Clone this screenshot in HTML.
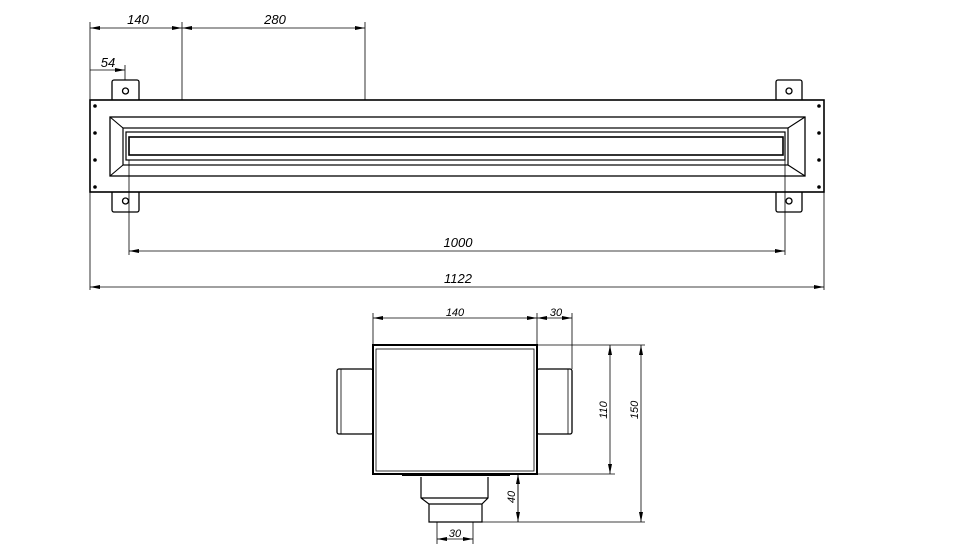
<!DOCTYPE html>
<html><head><meta charset="utf-8"><style>
html,body{margin:0;padding:0;background:#fff;width:970px;height:554px;overflow:hidden}
text{font-family:"Liberation Sans",sans-serif;font-style:italic;font-size:13px;fill:#000}
</style></head><body>
<svg width="970" height="554" viewBox="0 0 970 554" xmlns="http://www.w3.org/2000/svg">
<defs>
<marker id="a" viewBox="0 0 10 4" refX="10" refY="2" markerWidth="10" markerHeight="4" orient="auto-start-reverse" markerUnits="userSpaceOnUse"><path d="M0,0L10,2L0,4z" fill="#000"/></marker>
</defs>
<g fill="none" stroke="#000">
<!-- tabs -->
<g stroke-width="1.3">
<path d="M112,100V82a2,2 0 0 1 2,-2H137a2,2 0 0 1 2,2V100"/>
<path d="M112,192V210a2,2 0 0 0 2,2H137a2,2 0 0 0 2,-2V192"/>
<path d="M776,100V82a2,2 0 0 1 2,-2H800a2,2 0 0 1 2,2V100"/>
<path d="M776,192V210a2,2 0 0 0 2,2H800a2,2 0 0 0 2,-2V192"/>
<circle cx="125.5" cy="91" r="3"/><circle cx="125.5" cy="201" r="3"/>
<circle cx="789" cy="91" r="3"/><circle cx="789" cy="201" r="3"/>
</g>
<!-- outer frame -->
<rect x="90" y="100" width="734" height="92" stroke-width="1.6"/>
<rect x="110" y="117" width="695" height="59" stroke-width="1.3"/>
<rect x="123" y="128" width="665" height="37" stroke-width="1.2"/>
<rect x="126" y="132" width="659" height="28" stroke-width="1.2"/>
<rect x="129" y="137" width="654" height="18" stroke-width="1.6"/>
<path d="M110,117L123,128M110,176L123,165M805,117L788,128M805,176L788,165" stroke-width="1.1"/>
</g>
<g fill="#000">
<circle cx="95" cy="106" r="1.8"/><circle cx="95" cy="133" r="1.8"/><circle cx="95" cy="160" r="1.8"/><circle cx="95" cy="187" r="1.8"/>
<circle cx="819" cy="106" r="1.8"/><circle cx="819" cy="133" r="1.8"/><circle cx="819" cy="160" r="1.8"/><circle cx="819" cy="187" r="1.8"/>
</g>
<!-- top dims -->
<g stroke="#000" stroke-width="0.8" fill="none">
<path d="M90,22V290M182,22V100M365,22V100M125,65V80M824,192V290M129,160V255M785,160V255"/>
<line x1="90" y1="28" x2="182" y2="28" marker-start="url(#a)" marker-end="url(#a)"/>
<line x1="182" y1="28" x2="365" y2="28" marker-start="url(#a)" marker-end="url(#a)"/>
<line x1="90" y1="70" x2="125" y2="70" marker-end="url(#a)"/>
<line x1="129" y1="251" x2="785" y2="251" marker-start="url(#a)" marker-end="url(#a)"/>
<line x1="90" y1="287" x2="824" y2="287" marker-start="url(#a)" marker-end="url(#a)"/>
</g>
<text x="138" y="24" text-anchor="middle">140</text>
<text x="275" y="24" text-anchor="middle">280</text>
<text x="108" y="67" text-anchor="middle">54</text>
<text x="458" y="247" text-anchor="middle">1000</text>
<text x="458" y="283" text-anchor="middle">1122</text>
<!-- bottom view -->
<g fill="none" stroke="#000">
<rect x="337" y="369" width="36" height="65" rx="2" stroke-width="1.3"/>
<line x1="341" y1="369" x2="341" y2="434" stroke-width="0.8"/>
<rect x="537" y="369" width="35" height="65" rx="2" stroke-width="1.3"/>
<line x1="568" y1="369" x2="568" y2="434" stroke-width="0.8"/>
<rect x="373" y="345" width="164" height="129" fill="#fff" stroke-width="2"/>
<rect x="376" y="349" width="158" height="122" stroke-width="0.8"/>
<path d="M402,475H510" stroke-width="2"/>
<path d="M421,477V498L429,504V522H482V504L488,498V477M421,498H488M429,504H482" stroke-width="1.2"/>
</g>
<g stroke="#000" stroke-width="0.8" fill="none">
<path d="M373,313V345M537,313V345M572,313V369M537,345H645M537,474H615M482,522H645M518,474V522M437,522V544M473,522V544"/>
<line x1="373" y1="318" x2="537" y2="318" marker-start="url(#a)" marker-end="url(#a)"/>
<line x1="537" y1="318" x2="572" y2="318" marker-start="url(#a)" marker-end="url(#a)"/>
<line x1="610" y1="345" x2="610" y2="474" marker-start="url(#a)" marker-end="url(#a)"/>
<line x1="641" y1="345" x2="641" y2="522" marker-start="url(#a)" marker-end="url(#a)"/>
<line x1="518" y1="474" x2="518" y2="522" marker-start="url(#a)" marker-end="url(#a)"/>
<line x1="437" y1="539" x2="473" y2="539" marker-start="url(#a)" marker-end="url(#a)"/>
</g>
<text x="455" y="316" text-anchor="middle" style="font-size:11px">140</text>
<text x="556" y="316" text-anchor="middle" style="font-size:11px">30</text>
<text x="455" y="537" text-anchor="middle" style="font-size:11px">30</text>
<text transform="translate(607,410) rotate(-90)" text-anchor="middle" style="font-size:11px">110</text>
<text transform="translate(638,410) rotate(-90)" text-anchor="middle" style="font-size:11px">150</text>
<text transform="translate(515,497) rotate(-90)" text-anchor="middle" style="font-size:11px">40</text>
</svg>
</body></html>
